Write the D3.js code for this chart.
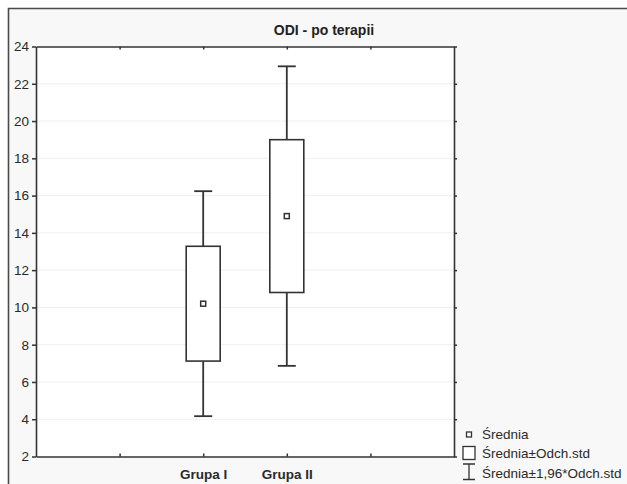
<!DOCTYPE html>
<html>
<head>
<meta charset="utf-8">
<script src="https://cdn.jsdelivr.net/npm/d3@7"></script>
<style>
  html, body { margin: 0; padding: 0; background: #ffffff; }
  svg { display: block; font-family: "Liberation Sans", Arial, sans-serif; }
</style>
</head>
<body>
<svg id="chart" width="627" height="484"></svg>
<script>
// Groups and their summary statistics (mean, standard deviation)
const groups = ["Grupa I", "Grupa II"];
const means = [10.2, 14.9];
const stdDevs = [3.08, 4.1];
const whiskerFactor = 1.96;

// Axis slots: the two groups sit in the middle of four category slots
const slots = ["_a", "Grupa I", "Grupa II", "_b"];
const yTicks = [2, 4, 6, 8, 10, 12, 14, 16, 18, 20, 22, 24];

const title = "ODI - po terapii";
const legendLabels = ["Średnia", "Średnia±Odch.std", "Średnia±1,96*Odch.std"];

const W = 627, H = 484;
const plot = { left: 36, top: 46.5, right: 454, bottom: 456.5 };
const ink = "#333333";

const svg = d3.select("#chart");

// outer panel with frame on the top and left
svg.append("rect").attr("x", 8).attr("y", 8).attr("width", W - 8).attr("height", H - 8)
  .attr("fill", "#f8f8f8");
svg.append("path").attr("d", `M8.5,${H} V8.5 H${W}`)
  .attr("fill", "none").attr("stroke", "#4a4a4a").attr("stroke-width", 1.6);

const x = d3.scalePoint().domain(slots).range([plot.left, plot.right]).padding(1);
const y = d3.scaleLinear().domain([2, 24]).range([plot.bottom, plot.top]);

// plot background
svg.append("rect")
  .attr("x", plot.left).attr("y", plot.top)
  .attr("width", plot.right - plot.left).attr("height", plot.bottom - plot.top)
  .attr("fill", "#ffffff");

// faint horizontal grid
svg.append("g").selectAll("line").data(yTicks.slice(1, -1)).join("line")
  .attr("x1", plot.left).attr("x2", plot.right)
  .attr("y1", d => y(d)).attr("y2", d => y(d))
  .attr("stroke", "#efefef").attr("stroke-width", 1);

// axes
const tickFont = g => g.selectAll("text")
  .attr("font-size", 13.5).attr("fill", "#2a2a2a");

const yLeft = svg.append("g").attr("transform", `translate(${plot.left},0)`)
  .call(d3.axisLeft(y).tickValues(yTicks).tickSize(4).tickPadding(3).tickSizeOuter(0));
yLeft.call(tickFont);

const yRight = svg.append("g").attr("transform", `translate(${plot.right},0)`)
  .call(d3.axisLeft(y).tickValues(yTicks).tickSize(-3).tickSizeOuter(0).tickFormat(""));

const xBottom = svg.append("g").attr("transform", `translate(0,${plot.bottom})`)
  .call(d3.axisBottom(x).tickSize(-3).tickPadding(13).tickSizeOuter(0)
    .tickFormat(d => groups.includes(d) ? d : ""));
xBottom.call(tickFont);
xBottom.selectAll("text").attr("font-weight", "bold").attr("font-size", 13.5);

const xTop = svg.append("g").attr("transform", `translate(0,${plot.top})`)
  .call(d3.axisTop(x).tickSize(-3).tickSizeOuter(0).tickFormat(""));

[yLeft, yRight, xBottom, xTop].forEach(g => {
  g.select(".domain").attr("stroke", ink).attr("stroke-width", 1.6);
  g.selectAll(".tick line").attr("stroke", ink).attr("stroke-width", 1.5);
});

// title
svg.append("text")
  .attr("x", 324).attr("y", 35)
  .attr("text-anchor", "middle")
  .attr("font-size", 14).attr("font-weight", "bold").attr("fill", "#222")
  .text(title);

// box + whisker marks
const boxW = 34, capW = 18, markerS = 5;
const data = groups.map((g, i) => ({ g, mean: means[i], sd: stdDevs[i] }));
const marks = svg.append("g").selectAll("g").data(data).join("g")
  .attr("transform", d => `translate(${x(d.g)},0)`);

marks.append("line")
  .attr("y1", d => y(d.mean + whiskerFactor * d.sd))
  .attr("y2", d => y(d.mean - whiskerFactor * d.sd))
  .attr("stroke", ink).attr("stroke-width", 1.8);
marks.selectAll(".cap").data(d => [d.mean + whiskerFactor * d.sd, d.mean - whiskerFactor * d.sd])
  .join("line").attr("class", "cap")
  .attr("x1", -capW / 2).attr("x2", capW / 2)
  .attr("y1", v => y(v)).attr("y2", v => y(v))
  .attr("stroke", ink).attr("stroke-width", 1.8);
marks.append("rect")
  .attr("x", -boxW / 2).attr("width", boxW)
  .attr("y", d => y(d.mean + d.sd))
  .attr("height", d => y(d.mean - d.sd) - y(d.mean + d.sd))
  .attr("fill", "#ffffff").attr("stroke", ink).attr("stroke-width", 1.6);
marks.append("rect")
  .attr("x", -markerS / 2).attr("width", markerS)
  .attr("y", d => y(d.mean) - markerS / 2).attr("height", markerS)
  .attr("fill", "#ffffff").attr("stroke", ink).attr("stroke-width", 1.5);

// legend
const lg = svg.append("g");
const lx = 469, textX = 482, rows = [438.5, 458, 477.5];
lg.append("rect").attr("x", lx - 2.5).attr("y", 432).attr("width", 5).attr("height", 5)
  .attr("fill", "#fff").attr("stroke", ink).attr("stroke-width", 1.3);
lg.append("rect").attr("x", lx - 6).attr("y", 446.5).attr("width", 12).attr("height", 13)
  .attr("fill", "#fff").attr("stroke", ink).attr("stroke-width", 1.3);
lg.append("path").attr("d", `M${lx - 6},464 H${lx + 6} M${lx},464 V479.5 M${lx - 6},479.5 H${lx + 6}`)
  .attr("fill", "none").attr("stroke", ink).attr("stroke-width", 1.3);
lg.selectAll("text").data(legendLabels).join("text")
  .attr("x", textX).attr("y", (d, i) => rows[i])
  .attr("font-size", 13.5).attr("fill", "#2a2a2a")
  .text(d => d);
</script>
</body>
</html>
